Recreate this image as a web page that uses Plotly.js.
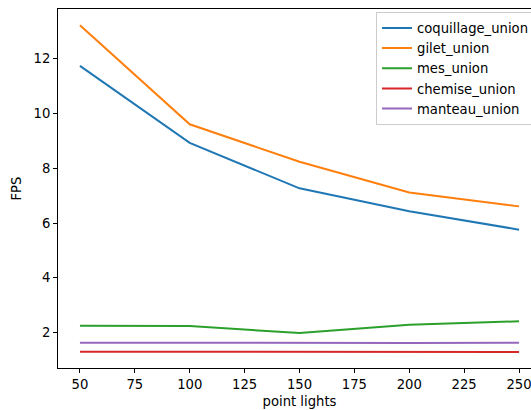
<!DOCTYPE html>
<html>
<head>
<meta charset="utf-8">
<script src="https://cdn.plot.ly/plotly-3.0.1.min.js"></script>
<style>
html,body{margin:0;padding:0;overflow:hidden;background:#fff;}
#chart{width:545px;height:410px;}
</style>
</head>
<body>
<div id="chart"></div>
<script>
const pointLights = [50, 100, 150, 200, 250];
const coquillageUnion = [11.74, 8.93, 7.27, 6.43, 5.76];
const giletUnion = [13.23, 9.61, 8.24, 7.12, 6.61];
const mesUnion = [2.25, 2.24, 1.98, 2.29, 2.41];
const chemiseUnion = [1.30, 1.30, 1.31, 1.30, 1.29];
const manteauUnion = [1.63, 1.62, 1.62, 1.62, 1.63];
const seriesNames = ["coquillage_union", "gilet_union", "mes_union", "chemise_union", "manteau_union"];
const xTicks = [50, 75, 100, 125, 150, 175, 200, 225, 250];
const yTicks = [2, 4, 6, 8, 10, 12];

const seriesValues = [coquillageUnion, giletUnion, mesUnion, chemiseUnion, manteauUnion];
const colors = ["#1f77b4", "#ff7f0e", "#2ca02c", "#d62728", "#9467bd"];

const traces = seriesValues.map((v, i) => ({
  x: pointLights, y: v, name: seriesNames[i], type: "scatter", mode: "lines",
  line: {color: colors[i], width: 2}
}));

const font = {family: "DejaVu Sans, sans-serif", size: 13.2, color: "#000"};
const layout = {
  width: 545, height: 410,
  margin: {l: 58, r: 4, t: 9, b: 42},
  paper_bgcolor: "#fff", plot_bgcolor: "#fff",
  font: font,
  showlegend: true,
  legend: {
    x: 0.9876, xanchor: "right", y: 0.992, yanchor: "top",
    bgcolor: "rgba(255,255,255,0.8)", bordercolor: "#cccccc", borderwidth: 1,
    font: font, itemwidth: 30
  },
  xaxis: {
    range: [40, 260], tickvals: xTicks, ticktext: xTicks.map(String),
    showgrid: false, zeroline: false, showline: true, mirror: true,
    linecolor: "#000", linewidth: 1, ticks: "outside", ticklen: 4, tickcolor: "#000",
    tickfont: font,
    title: {text: "point lights", font: font, standoff: 5}
  },
  yaxis: {
    range: [0.706, 13.82], tickvals: yTicks, ticktext: yTicks.map(String),
    showgrid: false, zeroline: false, showline: true, mirror: true,
    linecolor: "#000", linewidth: 1, ticks: "outside", ticklen: 4, tickcolor: "#000",
    tickfont: font,
    title: {text: "FPS", font: font, standoff: 8}
  }
};
Plotly.newPlot("chart", traces, layout, {displayModeBar: false, staticPlot: true});
</script>
</body>
</html>
